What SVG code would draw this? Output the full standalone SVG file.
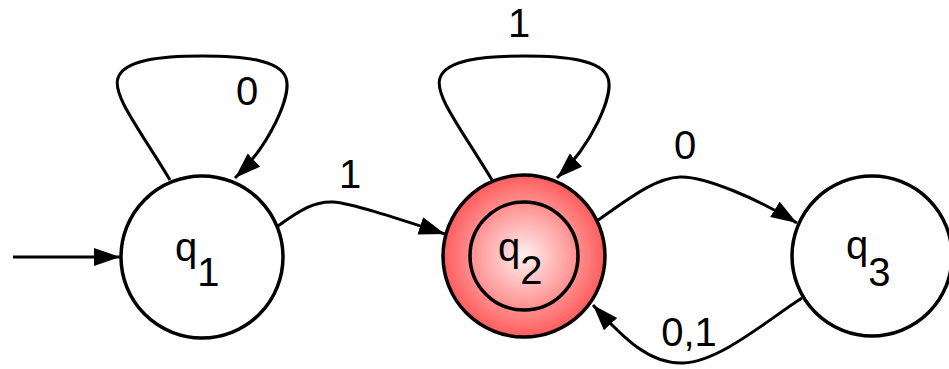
<svg xmlns="http://www.w3.org/2000/svg" width="949" height="369" viewBox="0 0 949 369">
  <defs>
    <radialGradient id="redGrad" cx="0.5" cy="0.5" r="0.5">
      <stop offset="0" stop-color="#fff0f0"/>
      <stop offset="1" stop-color="#ff5c5c"/>
    </radialGradient>
    <marker id="arrow" markerUnits="userSpaceOnUse" markerWidth="28" markerHeight="20" refX="26" refY="9" orient="auto">
      <path d="M0,0 L26,9 L0,18 z" fill="#000"/>
    </marker>
  </defs>
  <style>
    .state { fill: #fff; stroke: #000; stroke-width: 3.5; }
    .accept { fill: url(#redGrad); stroke: #000; stroke-width: 3.5; }
    .inner { fill: none; stroke: #000; stroke-width: 3.5; }
    .edge { fill: none; stroke: #000; stroke-width: 3; marker-end: url(#arrow); }
    .lbl { font-family: "Liberation Sans", Arial, Helvetica, sans-serif; font-size: 40px; fill: #000; }
  </style>
  <rect width="949" height="369" fill="#fff"/>

  <g id="connectors">
    <path id="start" class="edge" d="M13,257 L120,257"/>
    <path id="q1-q1" class="edge" d="M170,180 C140,130 112,95 118,78 C124,60 160,56 202,56 C244,56 280,60 286,78 C292,95 270,145 235,178"/>
    <path id="q1-q2" class="edge" d="M278,226 C300,210 315,201 333,202 C350,203 390,216 445,234"/>
    <path id="q2-q2" class="edge" d="M492,180 C462,130 434,95 440,78 C446,60 482,56 524,56 C566,56 602,60 608,78 C614,95 592,145 557,178"/>
    <path id="q2-q3" class="edge" d="M598,220 C630,198 655,178 680,177 C705,176 760,200 797,223"/>
    <path id="q3-q2" class="edge" d="M802,298 C770,318 720,362 683,363 C650,364 625,340 593,305"/>
    <text class="lbl" x="247" y="105" text-anchor="middle">0</text>
    <text class="lbl" x="350" y="188" text-anchor="middle">1</text>
    <text class="lbl" x="519" y="37" text-anchor="middle">1</text>
    <text class="lbl" x="685" y="159" text-anchor="middle">0</text>
    <text class="lbl" x="689" y="346" text-anchor="middle">0,1</text>
  </g>

  <g id="q1">
    <circle class="state" cx="202" cy="257" r="81"/>
    <text class="lbl" x="175" y="261">q<tspan dy="25">1</tspan></text>
  </g>
  <g id="q2">
    <circle class="accept" cx="524" cy="256" r="81"/>
    <circle class="inner" cx="524" cy="256" r="54"/>
    <text class="lbl" x="498" y="261">q<tspan dy="23">2</tspan></text>
  </g>
  <g id="q3">
    <circle class="state" cx="872" cy="256" r="80"/>
    <text class="lbl" x="846" y="259">q<tspan dy="27">3</tspan></text>
  </g>
</svg>
